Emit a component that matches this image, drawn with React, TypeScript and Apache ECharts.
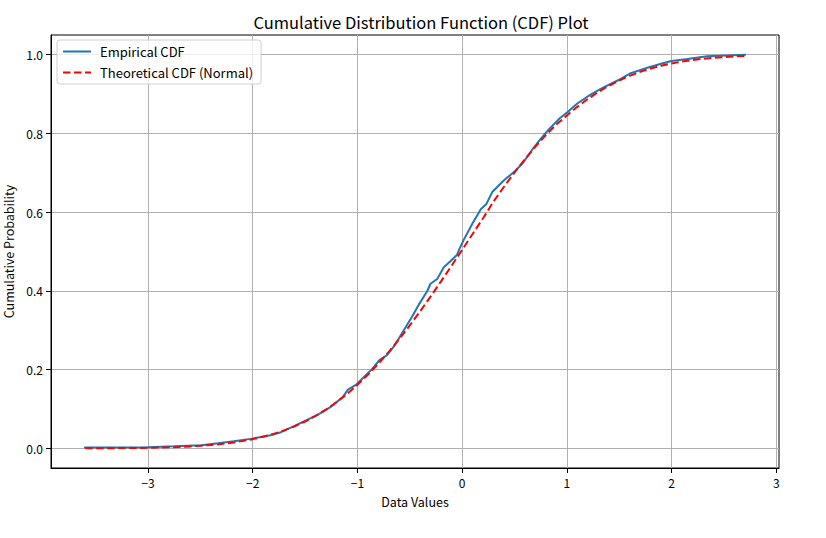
import React, { useEffect, useRef } from "react";
import * as echarts from "echarts";

const TITLE = "Cumulative Distribution Function (CDF) Plot";
const X_NAME = "Data Values";
const Y_NAME = "Cumulative Probability";
const SERIES_NAMES = ["Empirical CDF", "Theoretical CDF (Normal)"];

const xTicks = [-3, -2, -1, 0, 1, 2, 3];
const yTicks = [0, 0.2, 0.4, 0.6, 0.8, 1.0];

const empX = [
  -3.61, -3.0, -2.75, -2.49, -2.33, -2.18, -2.02, -1.83, -1.73, -1.6, -1.48, -1.38,
  -1.25, -1.14, -1.09, -1.01, -0.93, -0.865, -0.786, -0.72, -0.64, -0.573, -0.525,
  -0.477, -0.414, -0.334, -0.302, -0.238, -0.175, -0.112, -0.05, -0.03, 0.02, 0.1,
  0.18, 0.23, 0.29, 0.4, 0.5, 0.58, 0.69, 0.75, 0.83, 0.93, 1.01, 1.1, 1.23, 1.36,
  1.49, 1.61, 1.77, 1.9, 2.0, 2.15, 2.34, 2.71,
];
const empY = [
  0.002, 0.003, 0.005, 0.008, 0.013, 0.018, 0.024, 0.033, 0.041, 0.057, 0.072, 0.085,
  0.106, 0.13, 0.149, 0.162, 0.183, 0.2, 0.225, 0.236, 0.263, 0.293, 0.314,
  0.335, 0.365, 0.399, 0.418, 0.43, 0.46, 0.475, 0.491, 0.504, 0.532, 0.572,
  0.608, 0.62, 0.652, 0.681, 0.703, 0.725, 0.766, 0.786, 0.811, 0.838, 0.855, 0.876, 0.899, 0.918,
  0.935, 0.953, 0.967, 0.977, 0.984, 0.989, 0.996, 1.0,
];

const theoX = [
  -3.6, -3.5, -3.4, -3.3, -3.2, -3.1, -3.0, -2.9, -2.8, -2.7, -2.6, -2.5, -2.4, -2.3,
  -2.2, -2.1, -2.0, -1.9, -1.8, -1.7, -1.6, -1.5, -1.4, -1.3, -1.2, -1.1, -1.0, -0.9,
  -0.8, -0.7, -0.6, -0.5, -0.4, -0.3, -0.2, -0.1, 0.0, 0.1, 0.2, 0.3, 0.4, 0.5, 0.6,
  0.7, 0.8, 0.9, 1.0, 1.1, 1.2, 1.3, 1.4, 1.5, 1.6, 1.7, 1.8, 1.9, 2.0, 2.1, 2.2,
  2.3, 2.4, 2.5, 2.6, 2.7,
];
const theoY = [
  0.0002, 0.0002, 0.0004, 0.0005, 0.0007, 0.001, 0.0014, 0.0019, 0.0026, 0.0036,
  0.0048, 0.0064, 0.0084, 0.011, 0.0143, 0.0183, 0.0233, 0.0294, 0.0367, 0.0455,
  0.0559, 0.0681, 0.0823, 0.0985, 0.117, 0.1379, 0.1611, 0.1867, 0.2148, 0.2451,
  0.2776, 0.3121, 0.3483, 0.3859, 0.4247, 0.4641, 0.504, 0.5445, 0.5845, 0.627,
  0.6645, 0.7005, 0.7345, 0.7665, 0.796, 0.8225, 0.8455, 0.8675, 0.8875, 0.9052,
  0.9208, 0.9345, 0.9463, 0.9564, 0.9649, 0.9719, 0.9778, 0.9826, 0.9864, 0.9896,
  0.992, 0.994, 0.9955, 0.9966,
];

const FONT = "'Noto Sans CJK SC', 'Noto Sans', sans-serif";

function fmtX(v: number) {
  const s = String(Math.abs(Math.round(v)));
  return v < 0 ? "\u2212" + s : s;
}

export default function App() {
  const ref = useRef<HTMLDivElement>(null);
  useEffect(() => {
    if (!ref.current) return;
    const chart = echarts.init(ref.current, undefined, { renderer: "svg" });
    const empData = empX.map((x, i) => [x, empY[i]]);
    const theoData = theoX.map((x, i) => [x, theoY[i]]);
    chart.setOption({
      animation: false,
      backgroundColor: "#ffffff",
      textStyle: { fontFamily: FONT },
      title: {
        text: TITLE,
        left: 416,
        top: 9,
        textAlign: "center",
        textStyle: { fontFamily: FONT, fontSize: 16.5, fontWeight: "normal", color: "#000" },
      },
      grid: {
        left: 51,
        top: 35,
        width: 728,
        height: 433,
        show: true,
        borderColor: "#000",
        borderWidth: 1,
        backgroundColor: "transparent",
        outerBoundsMode: "none",
        containLabel: false,
      },
      legend: {
        left: 57,
        top: 40,
        orient: "vertical",
        itemWidth: 28,
        itemHeight: 12,
        itemGap: 8,
        padding: [5, 8, 5, 5],
        backgroundColor: "rgba(255,255,255,0.8)",
        borderColor: "#d0d0d0",
        borderWidth: 1,
        borderRadius: 3,
        itemStyle: { opacity: 0 },
        textStyle: { fontFamily: FONT, fontSize: 13, color: "#000", padding: [0, 0, 0, 4] },
        data: SERIES_NAMES,
      },
      xAxis: {
        type: "value",
        min: -3.926,
        max: 3.026,
        name: X_NAME,
        nameLocation: "middle",
        nameGap: 27,
        nameTextStyle: { fontFamily: FONT, fontSize: 12.5, color: "#000" },
        axisLine: { onZero: false, lineStyle: { color: "#000", width: 1 } },
        axisTick: { show: true, length: 5, customValues: xTicks, lineStyle: { color: "#000" } },
        axisLabel: {
          customValues: xTicks,
          formatter: (v: number) => fmtX(v),
          fontFamily: FONT,
          fontSize: 12,
          color: "#000",
          margin: 8,
        },
        splitLine: { show: true, lineStyle: { color: "#b0b0b0", width: 1 } },
      },
      yAxis: {
        type: "value",
        min: -0.05,
        max: 1.05,
        name: Y_NAME,
        nameLocation: "middle",
        nameGap: 36,
        nameTextStyle: { fontFamily: FONT, fontSize: 12.5, color: "#000" },
        axisLine: { show: true, onZero: false, lineStyle: { color: "#000", width: 1 } },
        axisTick: { show: true, length: 5, customValues: yTicks, lineStyle: { color: "#000" } },
        axisLabel: {
          customValues: yTicks,
          formatter: (v: number) => v.toFixed(1),
          fontFamily: FONT,
          fontSize: 12,
          color: "#000",
          margin: 8,
        },
        splitLine: { show: true, lineStyle: { color: "#b0b0b0", width: 1 } },
      },
      series: [
        {
          name: SERIES_NAMES[0],
          type: "line",
          data: empData,
          symbol: "none",
          lineStyle: { color: "#1f77b4", width: 2 },
          itemStyle: { color: "#1f77b4" },
          z: 2,
        },
        {
          name: SERIES_NAMES[1],
          type: "line",
          data: theoData,
          symbol: "none",
          smooth: false,
          lineStyle: { color: "#ff0000", width: 2, type: [7.5, 3.5] },
          itemStyle: { color: "#ff0000" },
          z: 3,
        },
      ],
    });
    return () => chart.dispose();
  }, []);
  return (
    <div
      ref={ref}
      style={{ position: "fixed", left: 0, top: 0, width: 826, height: 538 }}
    />
  );
}
